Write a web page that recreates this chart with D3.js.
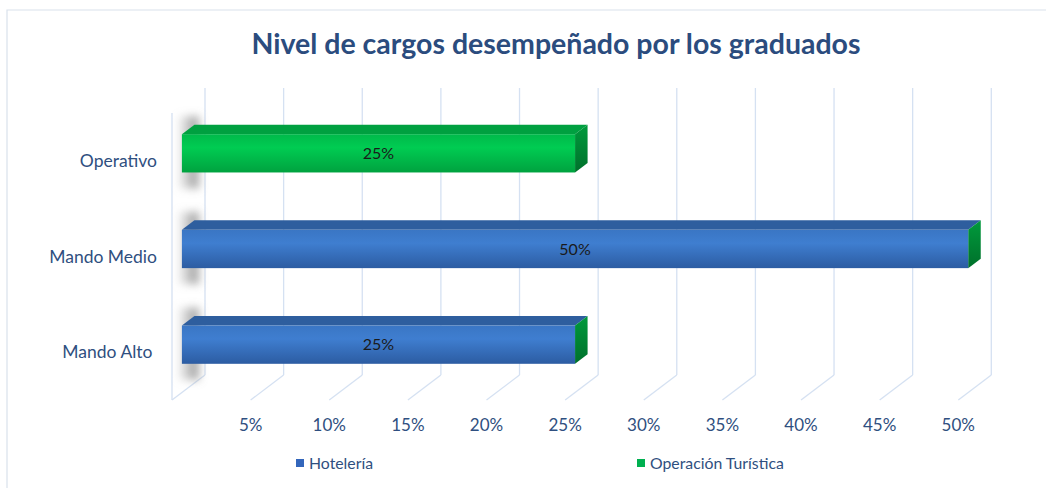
<!DOCTYPE html>
<html><head><meta charset="utf-8">
<script src="https://cdn.jsdelivr.net/npm/d3@7"></script>
<style>
html,body{margin:0;padding:0;background:#fff;}
svg{display:block;font-family:Lato,"Open Sans",sans-serif;}
</style></head>
<body>
<svg id="chart" width="1046" height="488"></svg>
<script>
const title = "Nivel de cargos desempeñado por los graduados";
const categories = ["Mando Alto ", "Mando Medio", "Operativo"];
const hoteleria = [0.25, 0.50, 0];
const operacion = [0, 0, 0.25];
const seriesNames = ["Hotelería", "Operación Turística"];
const tickValues = [0.05, 0.10, 0.15, 0.20, 0.25, 0.30, 0.35, 0.40, 0.45, 0.50];

const svg = d3.select("#chart");
const W = 1046, H = 488;
const DX = 33, DY = -25;           // full depth offset of the 3D box
const T0 = 0.30, T1 = 0.68;        // bar depth range
const front = {left: 172, right: 958.3, top: 113, bottom: 400};

const x = d3.scaleLinear().domain([0, 0.5]).range([front.left, front.right]);
const y = d3.scaleBand().domain(categories.slice().reverse())
  .range([front.top, front.bottom]).paddingInner(0.6).paddingOuter(0.3);

const textCol = "#2F4F80";
const gridCol = "#D5E1F2";

// defs
const defs = svg.append("defs");
function grad(id, stops){
  const g = defs.append("linearGradient").attr("id", id).attr("x1",0).attr("y1",0).attr("x2",0).attr("y2",1);
  stops.forEach(s => g.append("stop").attr("offset", s[0]).attr("stop-color", s[1]));
}
grad("blueFront", [[0,"#3A76C4"],[0.35,"#3F7ED0"],[1,"#2C5CA2"]]);
grad("greenFront", [[0,"#00B94A"],[0.35,"#00CC52"],[1,"#00A23F"]]);
grad("greenSide", [[0,"#009A3C"],[1,"#00702B"]]);
const shadowG = defs.append("linearGradient").attr("id","shadowGrad").attr("x1",0).attr("x2",1).attr("y1",0).attr("y2",0);
shadowG.append("stop").attr("offset",0).attr("stop-color","#b0b0b0").attr("stop-opacity",0.2);
shadowG.append("stop").attr("offset",0.7).attr("stop-color","#8c8c8c").attr("stop-opacity",0.7);
shadowG.append("stop").attr("offset",1).attr("stop-color","#8c8c8c").attr("stop-opacity",0.8);
defs.append("filter").attr("id","blur").attr("x","-50%").attr("y","-50%").attr("width","200%").attr("height","200%")
  .append("feGaussianBlur").attr("stdDeviation", 4);

// chart border
svg.append("path").attr("d", `M7,${H} L7,10 L${W},10`).attr("fill","none").attr("stroke","#D9E1EC").attr("stroke-width",1.2);

// title
svg.append("text").attr("x", 556).attr("y", 54).attr("text-anchor","middle")
  .attr("font-size", 28.5).attr("font-weight", "bold").attr("fill", "#2B4C7E").text(title);

// walls / gridlines
const grid = svg.append("g").attr("stroke", gridCol).attr("stroke-width", 1.3).attr("fill","none");
const allTicks = [0].concat(tickValues);
allTicks.forEach(v => {
  const xb = x(v) + DX;
  grid.append("line").attr("x1", xb).attr("x2", xb).attr("y1", front.top + DY).attr("y2", front.bottom + DY);
  grid.append("line").attr("x1", xb).attr("x2", x(v)).attr("y1", front.bottom + DY).attr("y2", front.bottom);
});
grid.append("line").attr("x1", x(0)).attr("x2", x(0)).attr("y1", front.top).attr("y2", front.bottom);

// bars
const bars = [];
categories.forEach((c, i) => {
  if (hoteleria[i] > 0) bars.push({cat: c, v: hoteleria[i], s: 0});
  if (operacion[i] > 0) bars.push({cat: c, v: operacion[i], s: 1});
});
const gb = svg.append("g");
bars.forEach(b => {
  const x0 = x(0) + DX * T0, y0 = y(b.cat) + DY * T0;
  const x1 = x(b.v) + DX * T0, y1 = y0 + y.bandwidth();
  const ddx = DX * (T1 - T0), ddy = DY * (T1 - T0);
  // shadow on the side wall
  gb.append("rect").attr("x", x(0) + 7).attr("y", y0 - 18).attr("width", 20).attr("height", y.bandwidth() + 34)
    .attr("fill", "url(#shadowGrad)").attr("filter", "url(#blur)");
  const front = b.s === 0 ? "url(#blueFront)" : "url(#greenFront)";
  const top = b.s === 0 ? "#2E5E9E" : "#00A040";
  gb.append("path").attr("d", `M${x0},${y0} L${x0+ddx},${y0+ddy} L${x1+ddx},${y0+ddy} L${x1},${y0} Z`).attr("fill", top);
  gb.append("path").attr("d", `M${x1},${y0} L${x1+ddx},${y0+ddy} L${x1+ddx},${y1+ddy} L${x1},${y1} Z`).attr("fill", "url(#greenSide)");
  gb.append("rect").attr("x", x0).attr("y", y0).attr("width", x1 - x0).attr("height", y1 - y0).attr("fill", front);
  gb.append("text").attr("x", (x0 + x1) / 2).attr("y", (y0 + y1) / 2 + 5.5).attr("text-anchor","middle")
    .attr("font-size", 16).attr("fill", "#1a1a1a").text(d3.format(".0%")(b.v));
});

// category labels
svg.append("g").selectAll("text").data(categories).join("text")
  .attr("x", 157).attr("y", d => y(d) + y.bandwidth() / 2 + 6)
  .attr("text-anchor", "end").attr("font-size", 17.5).attr("fill", textCol)
  .style("white-space", "pre").attr("xml:space","preserve").text(d => d);

// x tick labels
svg.append("g").selectAll("text").data(tickValues).join("text")
  .attr("x", d => x(d)).attr("y", 431).attr("text-anchor","middle")
  .attr("font-size", 17).attr("fill", textCol).text(d => d3.format(".0%")(d));

// legend
const legX = [296, 637], legCols = ["#3366BB", "#00B050"];
seriesNames.forEach((n, i) => {
  svg.append("rect").attr("x", legX[i]).attr("y", 459).attr("width", 8).attr("height", 8).attr("fill", legCols[i]);
  svg.append("text").attr("x", legX[i] + 13).attr("y", 468.5).attr("font-size", 15.8).attr("fill", textCol).text(n);
});
</script>
</body></html>
